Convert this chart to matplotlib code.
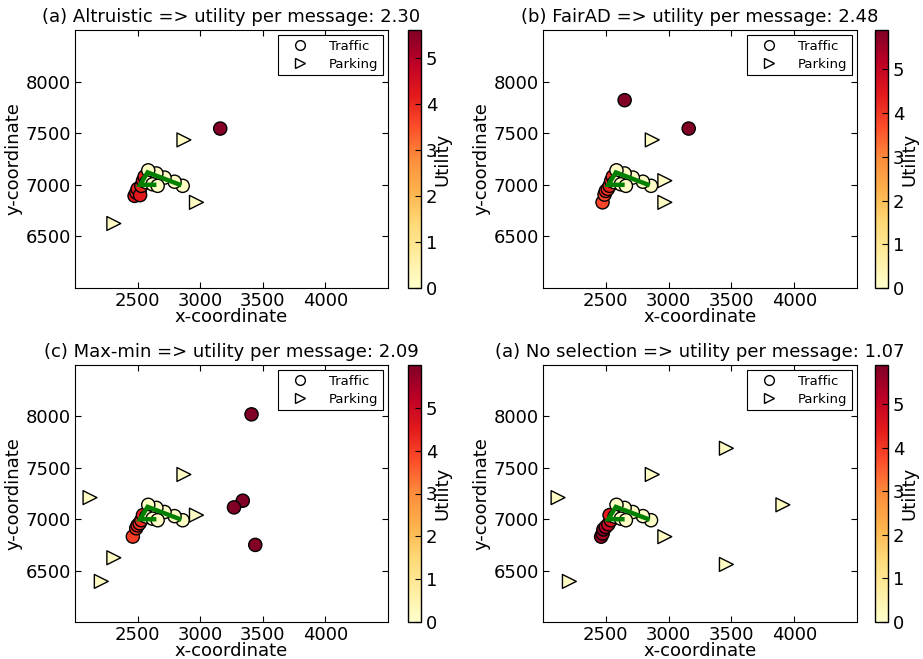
import matplotlib
matplotlib.use("Agg")
import matplotlib.pyplot as plt
from matplotlib.lines import Line2D

plt.rcParams['font.family'] = ['DejaVu Sans']
plt.rcParams['font.size'] = 13

# Shared traffic trajectory (low-utility vehicles) and the route drawn in green
path_x = [2860, 2795, 2715, 2650, 2585, 2570, 2620, 2660]
path_y = [6990, 7030, 7070, 7110, 7140, 7025, 7005, 6990]
path_u = [0.1, 0.1, 0.1, 0.1, 0.1, 0.1, 0.1, 0.1]
route_x = [2850, 2580, 2520, 2650]
route_y = [6995, 7120, 7000, 7000]

titles = [
    "(a) Altruistic => utility per message: 2.30",
    "(b) FairAD => utility per message: 2.48",
    "(c) Max-min => utility per message: 2.09",
    "(a) No selection => utility per message: 1.07",
]

# Selected traffic messages per strategy
traffic_a_x = [2476, 2490, 2516, 2500, 2520, 2530, 2543, 2556, 3160]
traffic_a_y = [6893, 6925, 6941, 6960, 6900, 6990, 7039, 7080, 7545]
traffic_a_u = [4.2, 4.0, 4.3, 4.1, 4.2, 4.0, 4.3, 4.1, 5.55]

traffic_b_x = [2474, 2490, 2500, 2516, 2530, 2543, 2556, 2650, 3160]
traffic_b_y = [6830, 6905, 6940, 6960, 6990, 7039, 7080, 7820, 7545]
traffic_b_u = [3.8, 3.7, 4.2, 4.1, 4.3, 4.2, 4.1, 5.9, 5.9]

traffic_c_x = [2462, 2489, 2500, 2516, 2530, 2543, 3410, 3340, 3270, 3440]
traffic_c_y = [6831, 6912, 6940, 6960, 6990, 7040, 8020, 7180, 7115, 6750]
traffic_c_u = [4.0, 4.2, 4.3, 4.1, 4.2, 4.3, 6.0, 6.0, 6.0, 6.0]

traffic_d_x = [2463, 2475, 2481, 2500, 2520, 2540, 2530]
traffic_d_y = [6830, 6860, 6900, 6925, 6950, 6990, 7040]
traffic_d_u = [5.5, 5.4, 5.9, 5.2, 5.0, 4.6, 4.4]

# Parking messages per strategy
parking_a_x = [2870, 2970, 2310]
parking_a_y = [7435, 6830, 6625]
parking_a_u = [0.15, 0.15, 0.15]

parking_b_x = [2870, 2970, 2970]
parking_b_y = [7435, 7040, 6830]
parking_b_u = [0.15, 0.15, 0.15]

parking_c_x = [2870, 2120, 2970, 2310, 2210]
parking_c_y = [7435, 7210, 7040, 6625, 6395]
parking_c_u = [0.15, 0.15, 0.15, 0.15, 0.15]

parking_d_x = [3460, 2870, 2120, 3910, 2970, 3460, 2210]
parking_d_y = [7690, 7435, 7210, 7140, 6830, 6560, 6395]
parking_d_u = [0.15, 0.15, 0.15, 0.15, 0.15, 0.15, 0.15]

vmax = [5.6, 5.9, 6.0, 5.9]

panels = [
    (traffic_a_x, traffic_a_y, traffic_a_u, parking_a_x, parking_a_y, parking_a_u),
    (traffic_b_x, traffic_b_y, traffic_b_u, parking_b_x, parking_b_y, parking_b_u),
    (traffic_c_x, traffic_c_y, traffic_c_u, parking_c_x, parking_c_y, parking_c_u),
    (traffic_d_x, traffic_d_y, traffic_d_u, parking_d_x, parking_d_y, parking_d_u),
]

W, H = 923, 659
fig = plt.figure(figsize=(W / 100, H / 100), dpi=100)

# pixel boxes: (left, right, top, bottom) for axes and colorbar
boxes = [
    ((75, 388, 30, 288), (408, 421)),
    ((543, 857, 30, 288), (875, 888)),
    ((75, 388, 365, 622), (408, 421)),
    ((543, 857, 365, 622), (875, 888)),
]

cmap = plt.get_cmap('YlOrRd')

for i, (data, (ab, cb)) in enumerate(zip(panels, boxes)):
    tx, ty, tu, px, py, pu = data
    l, r, t, b = ab
    ax = fig.add_axes([l / W, 1 - b / H, (r - l) / W, (b - t) / H])
    cax = fig.add_axes([cb[0] / W, 1 - b / H, (cb[1] - cb[0]) / W, (b - t) / H])

    xs = list(tx) + path_x
    ys = list(ty) + path_y
    us = list(tu) + path_u
    sc = ax.scatter(xs, ys, c=us, cmap=cmap, vmin=0, vmax=vmax[i], s=90,
                    marker='o', edgecolors='black', linewidths=1, zorder=3)
    ax.scatter(px, py, c=pu, cmap=cmap, vmin=0, vmax=vmax[i], s=100,
               marker='>', edgecolors='black', linewidths=1, zorder=3)
    ax.plot(route_x, route_y, color='#008000', lw=3.2, zorder=4,
            solid_capstyle='butt', solid_joinstyle='miter')

    ax.set_xlim(2000, 4500)
    ax.set_ylim(6000, 8500)
    ax.set_xticks([2500, 3000, 3500, 4000])
    ax.set_yticks([6500, 7000, 7500, 8000])
    ax.tick_params(direction='in', top=True, right=True, length=4, labelsize=13, pad=3)
    ax.set_xlabel('x-coordinate', fontsize=13, labelpad=-1.5)
    ax.set_ylabel('y-coordinate', fontsize=13, labelpad=2)
    ax.set_title(titles[i], fontsize=13, pad=6)

    handles = [
        Line2D([], [], ls='none', marker='o', mfc='white', mec='black', ms=7, mew=1),
        Line2D([], [], ls='none', marker='>', mfc='white', mec='black', ms=7, mew=1),
    ]
    leg = ax.legend(handles, ['Traffic', 'Parking'], loc='upper right', fontsize=9.5,
                    fancybox=False, framealpha=1, edgecolor='black',
                    borderaxespad=0.4, handlelength=2.6, handletextpad=0.9,
                    borderpad=0.35, labelspacing=0.35)
    leg.get_frame().set_linewidth(0.8)

    cbar = fig.colorbar(sc, cax=cax)
    cbar.set_ticks([0, 1, 2, 3, 4, 5])
    cbar.ax.tick_params(direction='in', length=4, labelsize=13)
    cbar.set_label('Utility', fontsize=13, labelpad=-3)
    cbar.outline.set_linewidth(1)

fig.savefig('out.png', dpi=100)
